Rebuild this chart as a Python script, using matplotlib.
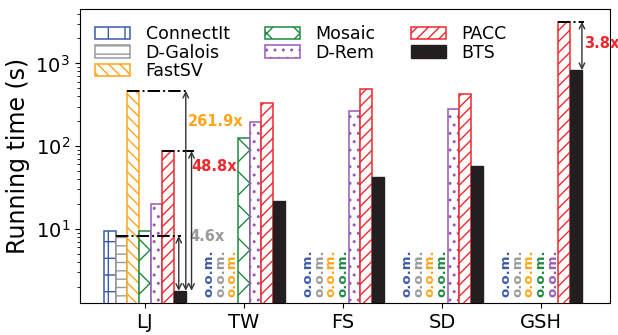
import numpy as np
import matplotlib.pyplot as plt
import matplotlib.transforms as mtransforms

# Running time (s) per dataset, NaN = out of memory
datasets = ["LJ", "TW", "FS", "SD", "GSH"]
methods = ["ConnectIt", "D-Galois", "FastSV", "Mosaic", "D-Rem", "PACC", "BTS"]
nan = np.nan
connectit = [9.3, nan, nan, nan, nan]
dgalois = [8.2, nan, nan, nan, nan]
fastsv = [466, nan, nan, nan, nan]
mosaic = [9.3, 126, nan, nan, nan]
drem = [20, 194, 265, 278, nan]
pacc = [87, 334, 485, 421, 3184]
bts = [1.78, 21.8, 42.6, 57.8, 830]

# speedup of BTS over a baseline: (dataset index, baseline, label)
speedups = [(0, "D-Galois", "4.6x"), (0, "FastSV", "261.9x"),
            (0, "PACC", "48.8x"), (4, "PACC", "3.8x")]

colors = ["#3c5aa8", "#9a9a9a", "#ffa51a", "#1f8a42", "#9b59b6", "#f0282d", "#231f20"]
hatches = ["+", "--", "\\\\\\", "x", "..", "///", None]
values = [connectit, dgalois, fastsv, mosaic, drem, pacc, bts]

fig = plt.figure(figsize=(6.18, 3.35), dpi=100)
ax = fig.add_axes([0.129, 0.095, 0.858, 0.878])
ax.set_yscale("log")

x = np.arange(len(datasets))
w = 0.118
trans = mtransforms.blended_transform_factory(ax.transData, ax.transAxes)

for i, (m, vals) in enumerate(zip(methods, values)):
    pos = x + (i - 3) * w
    if m == "BTS":
        ax.bar(pos, vals, w, color=colors[i], edgecolor=colors[i], label=m)
    else:
        ax.bar(pos, vals, w, facecolor="white", edgecolor=colors[i],
               hatch=hatches[i], linewidth=1.1, label=m)
    # out of memory marks
    for p, v in zip(pos, vals):
        if np.isnan(v):
            ax.text(p, 0.02, "o.o.m.", rotation=90, ha="center", va="bottom",
                    color=colors[i], fontsize=9.5, fontweight="bold", transform=trans)

# speedup arrows
arrow_dx = {"4.6x": 0.343, "261.9x": 0.414, "48.8x": 0.472, "3.8x": 0.414}
text_pos = {"4.6x": (0.455, 8.0), "261.9x": (0.434, 197),
            "48.8x": (0.475, 57), "3.8x": (0.434, 1746)}
text_col = {"D-Galois": "#9a9a9a", "FastSV": "#ffa51a", "PACC": "#f0282d"}
for g, m, lab in speedups:
    k = methods.index(m)
    top = values[k][g]
    low = bts[g]
    bx = x[g] + (k - 3) * w
    ax_x = x[g] + arrow_dx[lab]
    ax.plot([bx - w / 2, ax_x + 0.02], [top, top], color="black", ls="-.", lw=1.4)
    ax.annotate("", xy=(ax_x, low), xytext=(ax_x, top),
                arrowprops=dict(arrowstyle="<->", color="#333333", lw=1.0,
                                shrinkA=0, shrinkB=0))
    tx, ty = text_pos[lab]
    ax.text(x[g] + tx, ty, lab, color=text_col[m], fontsize=10.5,
            fontweight="bold", ha="left", va="center")

ax.set_xlim(-0.657, 4.697)
ax.set_ylim(1.26, 4540)
ax.set_xticks(x)
ax.set_xticklabels(datasets)
ax.tick_params(axis="both", labelsize=14)
ax.set_ylabel("Running time (s)", fontsize=17, labelpad=4)

ax.legend(ncol=3, loc="upper left", frameon=False, fontsize=12.5,
          labelspacing=0.05, handlelength=2.0, handletextpad=0.9,
          columnspacing=2.05)

fig.savefig("out.png", dpi=100)
